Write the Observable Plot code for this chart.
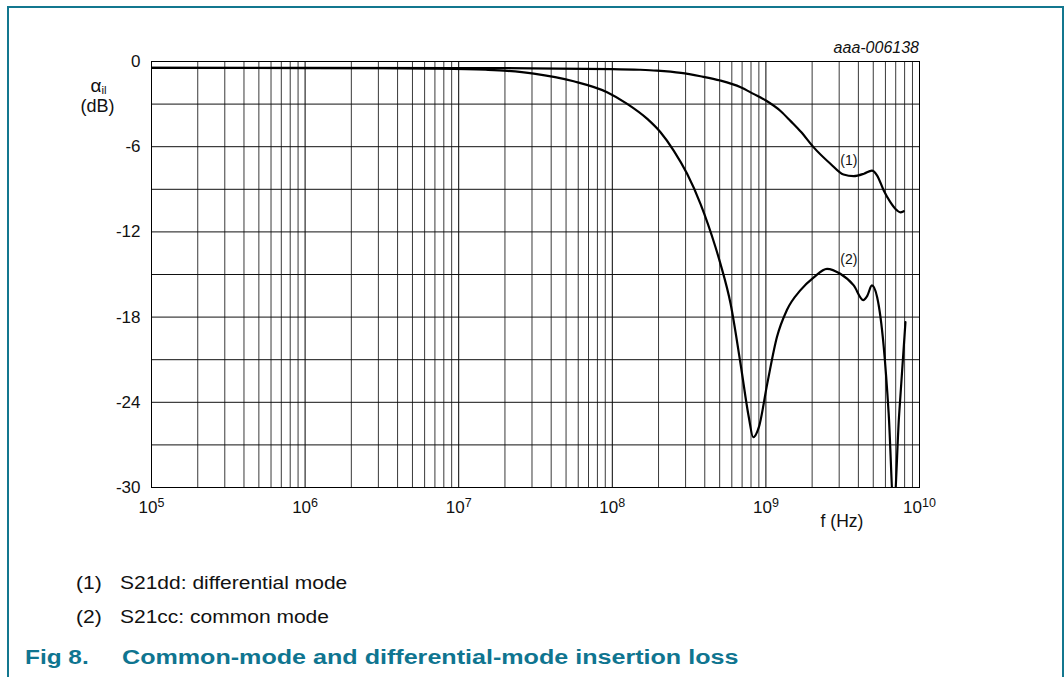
<!DOCTYPE html>
<html>
<head>
<meta charset="utf-8">
<script src="https://cdn.jsdelivr.net/npm/d3@7"></script>
<script src="https://cdn.jsdelivr.net/npm/@observablehq/plot@0.6"></script>
<style>
html, body { margin: 0; padding: 0; background: #fff; }
body { width: 1064px; height: 677px; position: relative; overflow: hidden;
       font-family: "Liberation Sans", Arial, Helvetica, sans-serif; color: #111; }
#box { position: absolute; left: 7px; top: 6px; width: 1057px; height: 700px;
       border: 2px solid #13778f; border-bottom: none; box-sizing: border-box; }
#chart { position: absolute; left: 0; top: 0; }
.t { position: absolute; white-space: nowrap; line-height: 1; transform-origin: 0 0; }
.c { text-align: center; }
.cap { font-size: 17.5px; transform: scaleX(1.2); }
.fig { font-size: 20px; font-weight: bold; color: #0f7590; }
</style>
</head>
<body>
<div id="box"></div>
<div id="chart"></div>

<div class="t c" style="left:68.5px; width:60px; top:75.5px; font-size:19px;">α<span style="font-size:11.5px; position:relative; top:2px;">il</span></div>
<div class="t c" style="left:67.5px; width:60px; top:97px; font-size:18px;">(dB)</div>
<div class="t" style="right:145px; top:39.8px; font-size:16px; font-style:italic;">aaa-006138</div>
<div class="t c" style="left:812px; width:60px; top:512.9px; font-size:17.5px;">f (Hz)</div>

<div class="t cap" style="left:75.5px; top:575.2px;">(1)</div>
<div class="t cap" style="left:120px; top:575.2px;">S21dd: differential mode</div>
<div class="t cap" style="left:75.5px; top:608.5px;">(2)</div>
<div class="t cap" style="left:120px; top:608.5px;">S21cc: common mode</div>
<div class="t fig" style="left:25px; top:647.4px; transform:scaleX(1.22);">Fig 8.</div>
<div class="t fig" style="left:122px; top:647.4px; transform:scaleX(1.255);">Common-mode and differential-mode insertion loss</div>

<script>
// ---- data ----
const freqDiff = [1e5, 1e6, 1e7, 3e7, 1e8, 1.5e8, 1.95e8, 2.8e8, 3.75e8, 5.05e8, 6.85e8, 8.3e8, 1.0e9,
  1.25e9, 1.45e9, 1.69e9, 2.04e9, 2.63e9, 3.2e9, 3.73e9, 4.35e9, 4.9e9, 5.3e9, 5.85e9, 6.46e9,
  7.14e9, 7.5e9, 7.9e9];
const dbDiff = [-0.45, -0.45, -0.46, -0.48, -0.53, -0.58, -0.64, -0.8, -1.04, -1.34, -1.81, -2.28, -2.75,
  -3.5, -4.2, -4.95, -6.03, -7.2, -7.96, -8.07, -7.9, -7.68, -8.03, -9.08, -9.9,
  -10.49, -10.62, -10.54];

const freqCm = [1e5, 1e6, 3e6, 7.6e6, 1.5e7, 2.07e7, 3.08e7, 5.6e7, 9.25e7, 1.25e8, 1.69e8, 2.06e8,
  2.51e8, 3.07e8, 3.75e8, 4.7e8, 5.06e8, 5.89e8, 6.84e8, 7.74e8, 8.26e8, 9.0e8, 1.02e9, 1.18e9,
  1.37e9, 1.68e9, 2.05e9, 2.5e9, 3.05e9, 3.73e9, 4.3e9, 4.57e9, 4.9e9, 5.3e9, 5.85e9, 6.3e9,
  6.8e9, 7.35e9, 8.1e9];
const dbCm = [-0.45, -0.46, -0.47, -0.5, -0.58, -0.66, -0.85, -1.39, -2.16, -2.98, -4.04, -4.98,
  -6.27, -7.91, -10.02, -13.08, -14.25, -17.06, -21.3, -25.05, -26.46, -25.75, -22.7, -19.4,
  -17.5, -16.1, -15.2, -14.6, -14.95, -15.77, -16.8, -16.5, -15.77, -16.6, -20.1, -24.8,
  -31.5, -25.05, -18.36];

const labelText = ["(1)", "(2)"];
const labelFreq = [3.47e9, 3.47e9];
const labelDb = [-6.94, -13.94];

const xTickValues = [1e5, 1e6, 1e7, 1e8, 1e9, 1e10];
const xTickExponents = ["5", "6", "7", "8", "9", "10"];
const yTickValues = [0, -6, -12, -18, -24, -30];
const yTickLabels = ["0", "-6", "-12", "-18", "-24", "-30"];
const yGridValues = [-3, -6, -9, -12, -15, -18, -21, -24, -27];
const decadeStarts = [1e5, 1e6, 1e7, 1e8, 1e9];
const minorMultipliers = [2, 3, 4, 5, 6, 7, 8, 9];

// ---- derived tables ----
const diff = freqDiff.map((f, i) => ({f, db: dbDiff[i]}));
const cm = freqCm.map((f, i) => ({f, db: dbCm[i]}));
const labels = labelText.map((t, i) => ({t, f: labelFreq[i], db: labelDb[i]}));
const minorGrid = decadeStarts.flatMap(d => minorMultipliers.map(m => d * m));
const decadeLines = xTickValues.slice(1, -1);

const chart = Plot.plot({
  width: 1064,
  height: 540,
  marginLeft: 151,
  marginRight: 145,
  marginTop: 61,
  marginBottom: 53,
  style: {fontFamily: '"Liberation Sans", Arial, sans-serif', fontSize: "17px", background: "transparent", overflow: "visible", color: "#111"},
  x: {type: "log", domain: [1e5, 1e10], label: null},
  y: {domain: [-30, 0], label: null},
  marks: [
    Plot.ruleX(minorGrid, {stroke: "#3a3a3a", strokeWidth: 1}),
    Plot.ruleX(decadeLines, {stroke: "#000", strokeWidth: 1}),
    Plot.ruleY(yGridValues, {stroke: "#111", strokeWidth: 1}),
    Plot.frame({stroke: "#000", strokeWidth: 1}),
    Plot.line(diff, {x: "f", y: "db", curve: "monotone-x", stroke: "#000", strokeWidth: 2.2, clip: true}),
    Plot.line(cm, {x: "f", y: "db", curve: "monotone-x", stroke: "#000", strokeWidth: 2.2, clip: true}),
    Plot.text(labels, {x: "f", y: "db", text: "t", fontSize: 14, fill: "#111"}),
    Plot.axisX(xTickValues, {tickSize: 0, tickPadding: 13, fontSize: 17, label: null,
      tickFormat: d => "10^" + xTickExponents[xTickValues.indexOf(d)]}),
    Plot.axisY(yTickValues, {tickSize: 0, tickPadding: 11, fontSize: 17, label: null,
      tickFormat: d => yTickLabels[yTickValues.indexOf(d)]})
  ]
});

document.getElementById("chart").appendChild(chart);

// superscript exponents on the x tick labels
d3.select(chart).selectAll('g[aria-label="x-axis tick label"] text').each(function() {
  const s = this.textContent;
  if (!s.includes("^")) return;
  const [base, exp] = s.split("^");
  const t = d3.select(this);
  t.text(null);
  t.append("tspan").text(base);
  t.append("tspan").attr("dy", -6).attr("font-size", 12.5).text(exp);
});
</script>
</body>
</html>
